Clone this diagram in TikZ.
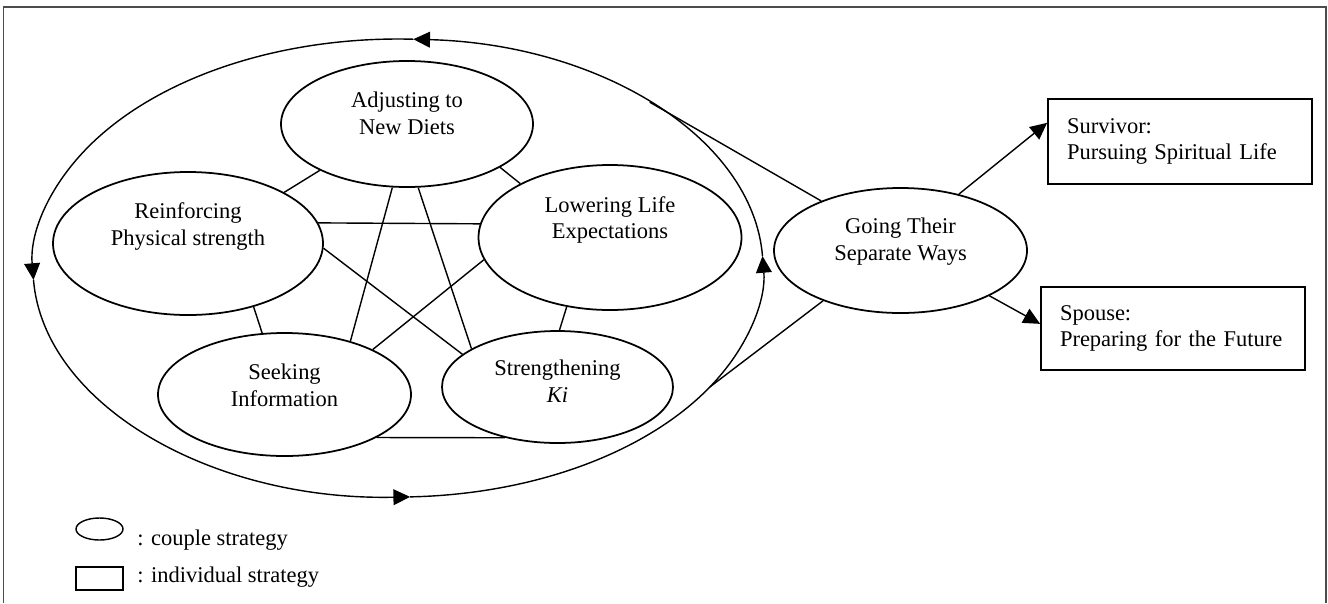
\documentclass[tikz,border=0pt]{standalone}
\usepackage{fontspec}
\setmainfont{Liberation Serif}
\usetikzlibrary{shapes.geometric,arrows.meta}

\tikzset{
  couple/.style={draw, ellipse, line width=1pt, inner sep=0pt},
  lbl/.style={align=center, inner sep=0pt, font=\fontsize{12.8}{15.3}\selectfont},
  indiv/.style={draw, rectangle, line width=1pt, minimum width=5.28cm, text width=4.52cm,
    inner xsep=0.38cm, align=left, font=\fontsize{12.8}{15.3}\selectfont},
  link/.style={line width=0.8pt},
  flow/.style={line width=0.8pt, -{Triangle[length=9.5pt,width=9pt]}},
}

\begin{document}
\begin{tikzpicture}[x=1cm,y=1cm]
\useasboundingbox (0,0) rectangle (26.56,-12.06);
\draw[black!70, line width=0.8pt] (0.07,-12.06) -- (0.07,-0.14) -- (26.52,-0.14) -- (26.52,-12.06);

\node[couple, minimum width=5.04cm, minimum height=2.52cm] (diets) at (8.14,-2.48) {};
\node[lbl] (diets-t) at ([yshift=0.22cm]diets.center) {Adjusting to\\New Diets};
\node[couple, minimum width=5.40cm, minimum height=2.86cm] (physical) at (3.76,-4.87) {};
\node[lbl] (physical-t) at ([yshift=0.34cm]physical.center) {Reinforcing\\Physical strength};
\node[couple, minimum width=5.26cm, minimum height=2.90cm] (lowering) at (12.20,-4.75) {};
\node[lbl] (lowering-t) at ([yshift=0.35cm]lowering.center) {Lowering Life\\Expectations};
\node[couple, minimum width=5.06cm, minimum height=2.46cm] (seeking) at (5.69,-7.89) {};
\node[lbl] (seeking-t) at ([yshift=0.19cm]seeking.center) {Seeking\\Information};
\node[couple, minimum width=4.62cm, minimum height=2.24cm] (ki) at (11.15,-7.74) {};
\node[lbl] (ki-t) at ([yshift=0.11cm]ki.center) {Strengthening\\\textit{Ki}};
\node[couple, minimum width=5.06cm, minimum height=2.50cm] (separate) at (18.01,-5.01) {};
\node[lbl] (separate-t) at ([yshift=0.18cm]separate.center) {Going Their\\Separate Ways};

\node[indiv, minimum height=1.70cm] (survivor) at (23.60,-2.83) {Survivor:\\Pursuing Spiritual Life};
\node[indiv, minimum height=1.66cm] (spouse) at (23.46,-6.57) {Spouse:\\Preparing for the Future};

\draw[link] (diets.208) -- (physical.28);
\draw[link] (diets.335) -- (lowering.149);
\draw[link] (physical.9) -- (lowering.174);
\draw[link] (diets.257) -- (seeking.39);
\draw[link] (diets.280) -- (ki.156);
\draw[link] (physical.358) -- (ki.161);
\draw[link] (lowering.190) -- (seeking.27);
\draw[link] (physical.316) -- (seeking.110);
\draw[link] (lowering.238) -- (ki.88);
\draw[link] (seeking.335) -- (ki.224);

\coordinate (lc) at (7.96,-5.36);
\coordinate (lt) at ([shift={(46.4:7.3 and 4.58)}]lc);
\coordinate (lb) at ([shift={(-31.3:7.3 and 4.58)}]lc);
\foreach \a/\b in {3/87.6,87.6/183,183/271.9,271.9/363}
  \draw[flow] ([shift={(\a:7.3 and 4.58)}]lc) arc[start angle=\a, end angle=\b, x radius=7.3, y radius=4.58];
\draw[link] (separate.148) -- (lt);
\draw[link] (separate.213) -- (lb);

\draw[flow] (separate.44) -- (survivor.172);
\draw[flow] (separate.333) -- (spouse.178);

\node[couple, line width=0.8pt, minimum width=0.94cm, minimum height=0.44cm] (leg-e) at (1.99,-10.58) {};
\node[lbl, anchor=base west] (leg-et) at (2.74,-10.90) {: couple strategy};
\node[draw, line width=0.8pt, minimum width=0.94cm, minimum height=0.46cm, inner sep=0pt] (leg-r) at (1.99,-11.57) {};
\node[lbl, anchor=base west] (leg-rt) at (2.74,-11.64) {: individual strategy};
\end{tikzpicture}
\end{document}
